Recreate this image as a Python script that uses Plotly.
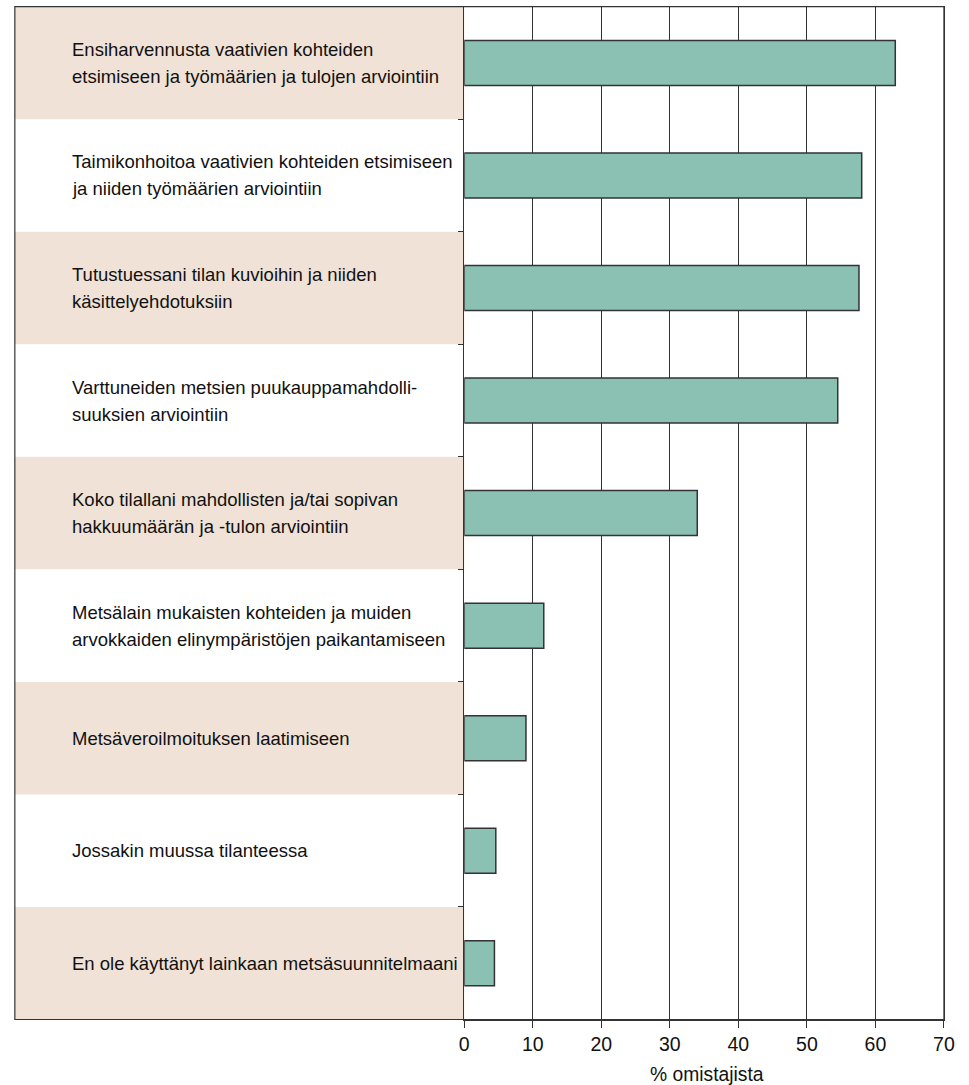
import plotly.graph_objects as go

# kyselyn vastausvaihtoehdot (rivit ylhäältä alas)
LABELS = [
    ["Ensiharvennusta vaativien kohteiden", "etsimiseen ja työmäärien ja tulojen arviointiin"],
    ["Taimikonhoitoa vaativien kohteiden etsimiseen", "ja niiden työmäärien arviointiin"],
    ["Tutustuessani tilan kuvioihin ja niiden", "käsittelyehdotuksiin"],
    ["Varttuneiden metsien puukauppamahdolli-", "suuksien arviointiin"],
    ["Koko tilallani mahdollisten ja/tai sopivan", "hakkuumäärän ja -tulon arviointiin"],
    ["Metsälain mukaisten kohteiden ja muiden", "arvokkaiden elinympäristöjen paikantamiseen"],
    ["Metsäveroilmoituksen laatimiseen"],
    ["Jossakin muussa tilanteessa"],
    ["En ole käyttänyt lainkaan metsäsuunnitelmaani"],
]
SHARES = [62.9, 58.0, 57.6, 54.5, 34.0, 11.6, 9.0, 4.6, 4.4]
X_TICKS = [0, 10, 20, 30, 40, 50, 60, 70]
X_TITLE = "% omistajista"

W, H = 969, 1085
FONT = "Liberation Sans, Arial, sans-serif"
BAR = "#8bc1b3"
BEIGE = "#f0e2d6"
LINE = "#333333"

# plot area in pixels
px_l, px_r = 467, 954.7
px_t, px_b = 6.7, 1019.5
panel_l = 10
text_x = 66
line_gap = 27

def fx(p):
    return p / W

def fy(p):
    return 1 - p / H

ypos = list(range(len(LABELS)))

fig = go.Figure()
fig.add_trace(go.Bar(
    x=SHARES, y=ypos, orientation="h", width=0.4,
    marker=dict(color=BAR, line=dict(color=LINE, width=1.5)),
    hoverinfo="x",
))

shapes = []
annotations = []
for i, lines in enumerate(LABELS):
    if i % 2 == 0:
        shapes.append(dict(type="rect", xref="paper", yref="y",
                           x0=fx(panel_l), x1=fx(px_l), y0=i - 0.5, y1=i + 0.5,
                           fillcolor=BEIGE, line=dict(width=0), layer="below"))
    n = len(lines)
    for k, t in enumerate(lines):
        off = ((n - 1) / 2 - k) * line_gap
        annotations.append(dict(text=t, xref="paper", yref="y", x=fx(text_x), y=i,
                                xanchor="left", yanchor="middle", showarrow=False,
                                yshift=off, font=dict(size=18.5, color="#111", family=FONT)))

# outer frame round the label panel
shapes.append(dict(type="rect", xref="paper", yref="paper",
                   x0=fx(panel_l), x1=fx(px_r), y0=fy(px_b), y1=fy(px_t),
                   line=dict(color=LINE, width=1.2)))

annotations.append(dict(text=X_TITLE, xref="paper", yref="paper",
                        x=fx(713.5), y=fy(1074.5), xanchor="center",
                        yanchor="middle", showarrow=False,
                        font=dict(size=19.3, color="#111", family=FONT)))

fig.update_layout(
    width=W, height=H,
    margin=dict(l=0, r=0, t=0, b=0),
    paper_bgcolor="white", plot_bgcolor="white",
    showlegend=False,
    shapes=shapes, annotations=annotations,
    font=dict(family=FONT, size=19, color="#111"),
    xaxis=dict(domain=[fx(px_l), fx(px_r)], range=[0, 70], tickvals=X_TICKS,
               showgrid=True, gridcolor=LINE, gridwidth=1, zeroline=False,
               showline=True, linecolor=LINE, linewidth=1.2, mirror=True,
               ticks="outside", ticklen=7, tickcolor=LINE, tickwidth=1.2,
               tickfont=dict(size=19.5, color="#111")),
    yaxis=dict(domain=[fy(px_b), fy(px_t)], range=[len(LABELS) - 0.5, -0.5],
               tickvals=[i - 0.5 for i in range(len(LABELS) + 1)],
               showticklabels=False, showgrid=False, zeroline=False,
               showline=True, linecolor=LINE, linewidth=1.2, mirror=True,
               ticks="outside", ticklen=5, tickcolor=LINE),
)

# drop the page's default body margin and scrollbars so the figure fills the window
fig.write_html(
    "out.html",
    config={"displayModeBar": False},
    post_script="document.body.style.margin='0';document.body.style.overflow='hidden';",
)
